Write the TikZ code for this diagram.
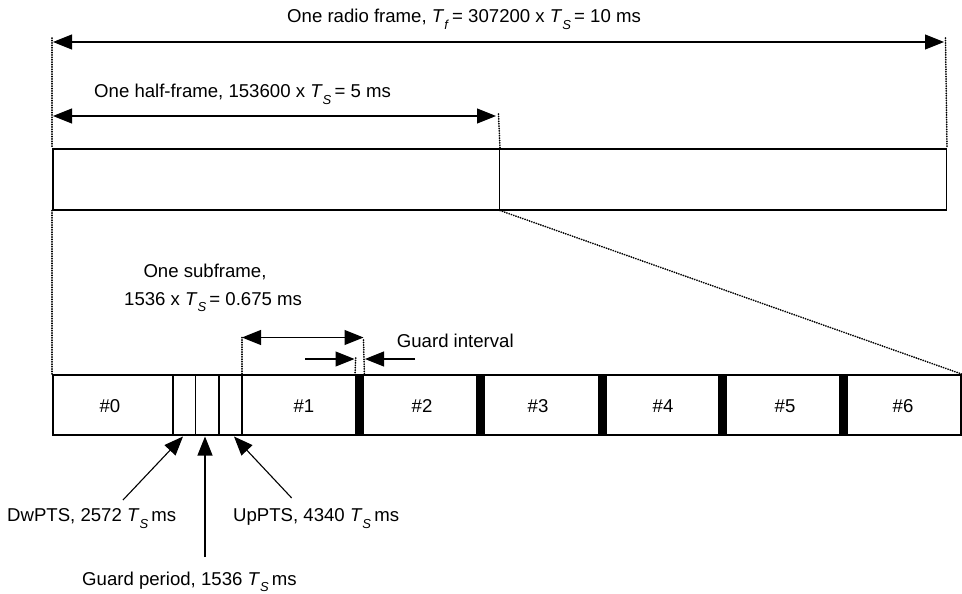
\documentclass[tikz,border=0pt]{standalone}
\usepackage{fontspec}
\setmainfont{Liberation Sans}
\usetikzlibrary{arrows.meta}
\newcommand{\Tsub}[1]{\textit{T}\raisebox{-6.5pt}{\fontsize{13}{13}\selectfont\textit{#1}}}
\begin{document}
\begin{tikzpicture}[x=1pt,y=-1pt, font=\fontsize{18.6}{22}\selectfont,
  box/.style={draw, line width=1.5pt, inner sep=0pt, anchor=north west},
  wall/.style={line width=1.5pt},
  bar/.style={fill=black, draw=none, inner sep=0pt, anchor=north west, minimum width=9pt, minimum height=60pt},
  dots/.style={line width=1.7pt, line cap=round, dash pattern=on 0.3pt off 2.1pt},
  bigtip/.tip={Triangle[length=19pt,width=15pt]},
  dimarrow/.style={line width=1.1pt, bigtip-bigtip},
  ptr/.style={line width=1.1pt, -bigtip},
  lbl/.style={anchor=base west, inner sep=0pt},
  num/.style={anchor=base, inner sep=0pt}]
\useasboundingbox (0,0) rectangle (962,594);

% radio frame
\node[box, minimum width=446.5pt, minimum height=61pt] (h1) at (52,148) {};
\node[box, minimum width=447pt, minimum height=61pt] (h2) at (498.5,148) {};

% dimension references
\coordinate (Ltop) at (52,38);
\coordinate (Rtop) at (945.5,38);
\coordinate (Mtop) at (498.5,114);
\coordinate (fa) at (53,42);
\coordinate (fb) at (944,42);
\coordinate (ha) at (53,116);
\coordinate (hb) at (496,116);

\draw[dots] (Ltop) -- (h1.north west);
\draw[dots] (Rtop) -- (h2.north east);
\draw[dots] (Mtop) -- (h1.north east);
\draw[dimarrow] (fa) -- (fb);
\draw[dimarrow] (ha) -- (hb);

\node[lbl] (tf) at (287,23) {One radio frame, \Tsub{f}\,= 307200 x \Tsub{S}\,= 10 ms};
\node[lbl] (th) at (94,97.5) {One half-frame, 153600 x \Tsub{S}\,= 5 ms};

% subframe row
\node[box, minimum width=908pt, minimum height=60pt] (row) at (52,374) {};
\draw[dots] (h1.south west) -- (row.north west);
\draw[dots] (h1.south east) -- (row.north east);

\coordinate (s1t) at (173,374); \coordinate (s1b) at (173,434);
\coordinate (s2t) at (195.3,374); \coordinate (s2b) at (195.3,434);
\coordinate (s3t) at (219,374); \coordinate (s3b) at (219,434);
\coordinate (s4t) at (242,374); \coordinate (s4b) at (242,434);
\draw[wall] (s1t) -- (s1b);
\draw[wall] (s2t) -- (s2b);
\draw[wall] (s3t) -- (s3b);
\draw[wall] (s4t) -- (s4b);

\node[bar] (b1) at (355,374) {};
\node[bar] (b2) at (476,374) {};
\node[bar] (b3) at (597.5,374) {};
\node[bar] (b4) at (718,374) {};
\node[bar] (b5) at (839,374) {};

\node[num] (n0) at (110,412) {\#0};
\node[num] (n1) at (304,412) {\#1};
\node[num] (n2) at (422,412) {\#2};
\node[num] (n3) at (538,412) {\#3};
\node[num] (n4) at (663,412) {\#4};
\node[num] (n5) at (785,412) {\#5};
\node[num] (n6) at (903,412) {\#6};

% subframe dimension
\coordinate (sfa) at (242,337.5);
\coordinate (sfb) at (363.5,337.5);
\coordinate (sfc) at (363.5,340);
\coordinate (gia) at (355.7,358);
\draw[dots] (sfa) -- (s4t);
\draw[dots] (sfc) -- (b1.north east);
\draw[dots] (gia) -- (b1.north west);
\draw[dimarrow] (sfa) -- (sfb);

\coordinate (g1s) at (305,359);
\coordinate (g1e) at (354.5,359);
\coordinate (g2s) at (415,359);
\coordinate (g2e) at (365,359);
\draw[ptr] (g1s) -- (g1e);
\draw[ptr] (g2s) -- (g2e);

\node[lbl] (tsf1) at (143.3,277.7) {One subframe,};
\node[lbl] (tsf2) at (124,305) {1536 x \Tsub{S}\,= 0.675 ms};
\node[lbl] (tgi) at (396.7,347.7) {Guard interval};

% bottom pointers
\coordinate (dwtip) at (183,436.5);
\coordinate (gptip) at (205,436.5);
\coordinate (uptip) at (234,436.5);
\coordinate (dwtail) at (123,500);
\coordinate (gptail) at (205,557);
\coordinate (uptail) at (291.7,498);
\draw[ptr] (dwtail) -- (dwtip);
\draw[ptr] (gptail) -- (gptip);
\draw[ptr] (uptail) -- (uptip);

\node[lbl] (tdw) at (7,521.7) {DwPTS, 2572 \Tsub{S}\,ms};
\node[lbl] (tup) at (233,521.7) {UpPTS, 4340 \Tsub{S}\,ms};
\node[lbl] (tgp) at (82,585) {Guard period, 1536 \Tsub{S}\,ms};
\end{tikzpicture}
\end{document}
